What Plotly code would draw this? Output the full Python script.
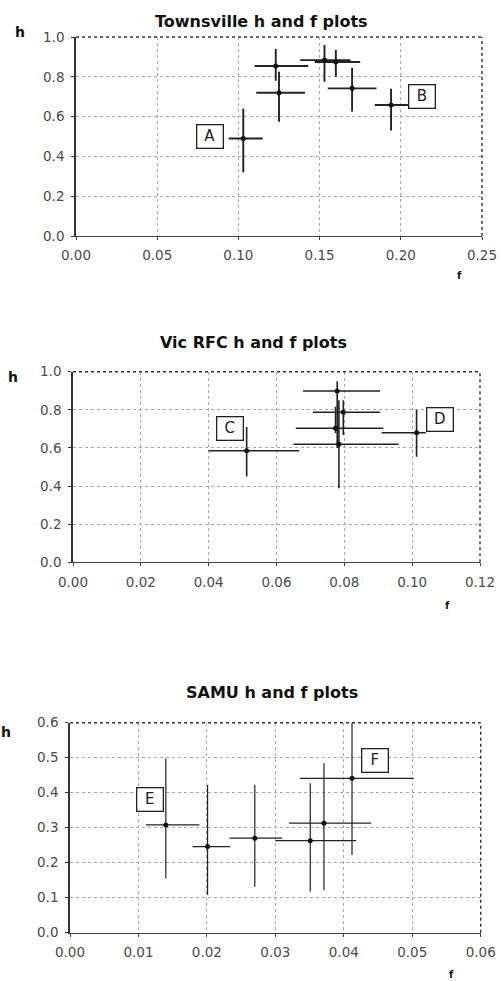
import plotly.graph_objects as go

# ---------------- data ----------------
# Townsville
tv_f = [0.103, 0.123, 0.125, 0.153, 0.160, 0.170, 0.194]
tv_h = [0.49, 0.854, 0.72, 0.884, 0.874, 0.742, 0.658]
tv_f_lo = [0.094, 0.110, 0.111, 0.138, 0.147, 0.155, 0.184]
tv_f_hi = [0.115, 0.143, 0.141, 0.169, 0.175, 0.185, 0.206]
tv_h_lo = [0.32, 0.78, 0.574, 0.775, 0.80, 0.625, 0.53]
tv_h_hi = [0.64, 0.94, 0.826, 0.96, 0.935, 0.845, 0.74]

# Vic RFC
vr_f = [0.0512, 0.0779, 0.0797, 0.0774, 0.0784, 0.1013]
vr_h = [0.585, 0.899, 0.787, 0.703, 0.619, 0.68]
vr_f_lo = [0.040, 0.0678, 0.0707, 0.0657, 0.065, 0.091]
vr_f_hi = [0.0667, 0.0905, 0.0905, 0.0915, 0.096, 0.104]
vr_h_lo = [0.45, 0.60, 0.668, 0.678, 0.388, 0.554]
vr_h_hi = [0.71, 0.95, 0.85, 0.816, 0.85, 0.80]

# SAMU
sa_f = [0.0140, 0.0201, 0.0270, 0.0351, 0.0371, 0.0412]
sa_h = [0.308, 0.246, 0.27, 0.263, 0.313, 0.441]
sa_f_lo = [0.0111, 0.0179, 0.0233, 0.030, 0.032, 0.0336]
sa_f_hi = [0.0189, 0.0234, 0.031, 0.0418, 0.044, 0.0502]
sa_h_lo = [0.155, 0.108, 0.131, 0.117, 0.122, 0.222]
sa_h_hi = [0.498, 0.422, 0.422, 0.427, 0.484, 0.60]

titles = ["Townsville h and f plots", "Vic RFC h and f plots", "SAMU h and f plots"]
x_ranges = [[0, 0.25], [0, 0.12], [0, 0.06]]
y_ranges = [[0, 1.0], [0, 1.0], [0, 0.6]]
x_dticks = [0.05, 0.02, 0.01]
y_dticks = [0.2, 0.2, 0.1]

label_text = [["A", "B"], ["C", "D"], ["E", "F"]]
label_f = [[0.0825, 0.213], [0.0464, 0.1082], [0.01169, 0.04456]]
label_h = [[0.50, 0.70], [0.70, 0.749], [0.382, 0.493]]

# ---------------- layout ----------------
W, H = 501, 981
# pixel boxes of plot areas: (left, right, top, bottom)
boxes = [(76, 482, 37, 236), (73, 480, 371.7, 562.3), (70, 480.7, 722.7, 932.7)]
title_pos = [(261, 22), (254, 343), (272, 692)]
hlab_pos = [(20, 32), (13, 377), (6, 732)]
flab_pos = [(459, 276), (447, 605), (451, 974)]
err_thick = [1.9, 1.6, 1.2]

FONT = "DejaVu Sans, Arial, sans-serif"

fig = go.Figure()

panels = [
    (tv_f, tv_h, tv_f_lo, tv_f_hi, tv_h_lo, tv_h_hi),
    (vr_f, vr_h, vr_f_lo, vr_f_hi, vr_h_lo, vr_h_hi),
    (sa_f, sa_h, sa_f_lo, sa_f_hi, sa_h_lo, sa_h_hi),
]

annotations = []
shapes = []
for i, (f, h, flo, fhi, hlo, hhi) in enumerate(panels):
    n = "" if i == 0 else str(i + 1)
    xa, ya = "x" + n, "y" + n
    fig.add_trace(go.Scatter(
        x=f, y=h, mode="markers", xaxis=xa, yaxis=ya, showlegend=False,
        marker=dict(color="#111", size=5),
        error_x=dict(type="data", symmetric=False,
                     array=[b - a for a, b in zip(f, fhi)],
                     arrayminus=[a - b for a, b in zip(f, flo)],
                     width=0, thickness=err_thick[i], color="#222"),
        error_y=dict(type="data", symmetric=False,
                     array=[b - a for a, b in zip(h, hhi)],
                     arrayminus=[a - b for a, b in zip(h, hlo)],
                     width=0, thickness=err_thick[i], color="#222"),
    ))
    l, r, t, b = boxes[i]
    tickfont = dict(family=FONT, size=13.5, color="#4a4a4a")
    ax = dict(domain=[l / W, r / W], range=x_ranges[i], dtick=x_dticks[i], tick0=0,
              tickformat=".2f", showgrid=True, gridcolor="#aaa", griddash="dot", gridwidth=1,
              showline=True, linecolor="#444", linewidth=1.2, ticks="outside", ticklen=3,
              tickcolor="#444", tickfont=tickfont, ticklabelstandoff=4, automargin=False,
              zeroline=False, anchor=ya, fixedrange=True)
    ay = dict(domain=[1 - b / H, 1 - t / H], range=y_ranges[i], dtick=y_dticks[i], tick0=0,
              tickformat=".1f", showgrid=True, gridcolor="#aaa", griddash="dot", gridwidth=1,
              showline=True, linecolor="#333", linewidth=1.6, ticks="outside", ticklen=3,
              tickcolor="#333", tickfont=tickfont, ticklabelstandoff=4, automargin=False,
              zeroline=False, anchor=xa, fixedrange=True)
    fig.update_layout(**{"xaxis" + n: ax, "yaxis" + n: ay})
    # dotted top and right frame
    shapes.append(dict(type="line", xref=xa + " domain", yref=ya + " domain",
                       x0=0, x1=1, y0=1, y1=1, line=dict(color="#333", width=1.4, dash="dot")))
    shapes.append(dict(type="line", xref=xa + " domain", yref=ya + " domain",
                       x0=1, x1=1, y0=0, y1=1, line=dict(color="#333", width=1.4, dash="dot")))
    # title, axis letters
    tx, ty = title_pos[i]
    annotations.append(dict(text="<b>" + titles[i] + "</b>", x=tx / W, y=1 - ty / H,
                            xref="paper", yref="paper", showarrow=False,
                            xanchor="center", yanchor="middle",
                            font=dict(family=FONT, size=16, color="#111")))
    hx, hy = hlab_pos[i]
    annotations.append(dict(text="<b>h</b>", x=hx / W, y=1 - hy / H, xref="paper", yref="paper",
                            showarrow=False, xanchor="center", yanchor="middle",
                            font=dict(family=FONT, size=14, color="#111")))
    fx, fy = flab_pos[i]
    annotations.append(dict(text="<b>f</b>", x=fx / W, y=1 - fy / H, xref="paper", yref="paper",
                            showarrow=False, xanchor="center", yanchor="middle",
                            font=dict(family=FONT, size=10, color="#111")))
    # boxed letters
    for txt, lf, lh in zip(label_text[i], label_f[i], label_h[i]):
        annotations.append(dict(text=txt, x=lf, y=lh, xref=xa, yref=ya, showarrow=False,
                                xanchor="center", yanchor="middle",
                                font=dict(family=FONT, size=15, color="#222"),
                                bordercolor="#222", borderwidth=1.3, bgcolor="white",
                                width=23, height=20, borderpad=1))

fig.update_layout(width=W, height=H, margin=dict(l=0, r=0, t=0, b=0),
                  paper_bgcolor="white", plot_bgcolor="white",
                  annotations=annotations, shapes=shapes, showlegend=False)

fig.write_html("out.html", post_script="document.body.style.margin='0';",
               config={"displayModeBar": False})
